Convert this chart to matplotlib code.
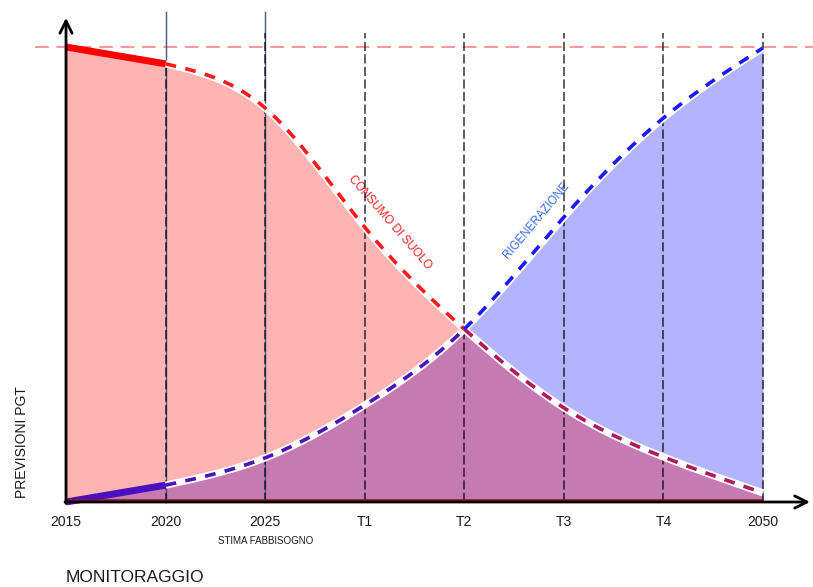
import numpy as np
import matplotlib
matplotlib.use("Agg")
import matplotlib.pyplot as plt

# ---------------- data ----------------
tick_labels = ["2015", "2020", "2025", "T1", "T2", "T3", "T4", "2050"]
tick_pos = [0, 1, 2, 3, 4, 5, 6, 7]
curve_x = [0, 1, 2, 3, 4, 5, 6, 7]
consumo = [100, 96.3, 86.6, 60.4, 38.0, 20.7, 9.9, 2.0]
rigenerazione = [0, 3.7, 9.7, 21.3, 38.0, 62.6, 84.4, 99.8]
monitor_end = 1      # solid (observed) part ends at 2020
cross_x = 4          # curves meet at T2
max_level = 100      # PGT forecast level

# ---------------- helpers ----------------
def natural_spline(x, y, xs):
    x = np.asarray(x, float); y = np.asarray(y, float)
    n = len(x); h = np.diff(x)
    A = np.zeros((n, n)); b = np.zeros(n)
    A[0, 0] = 1; A[-1, -1] = 1
    for i in range(1, n - 1):
        A[i, i - 1] = h[i - 1]; A[i, i] = 2 * (h[i - 1] + h[i]); A[i, i + 1] = h[i]
        b[i] = 3 * ((y[i + 1] - y[i]) / h[i] - (y[i] - y[i - 1]) / h[i - 1])
    c = np.linalg.solve(A, b)
    bb = (y[1:] - y[:-1]) / h - h * (2 * c[:-1] + c[1:]) / 3
    d = (c[1:] - c[:-1]) / (3 * h)
    idx = np.clip(np.searchsorted(x, xs) - 1, 0, n - 2)
    t = xs - x[idx]
    return y[idx] + bb[idx] * t + c[idx] * t**2 + d[idx] * t**3

def curve(xs, ys, grid):
    xs = np.asarray(xs, float); ys = np.asarray(ys, float)
    out = np.empty_like(grid)
    lin = grid <= monitor_end
    out[lin] = np.interp(grid[lin], xs[:2], ys[:2])
    sel = xs >= monitor_end
    out[~lin] = natural_spline(xs[sel], ys[sel], grid[~lin])
    return out

grid = np.linspace(0, 7, 1401)
red = curve(curve_x, consumo, grid)
blue = curve(curve_x, rigenerazione, grid)

# ---------------- figure ----------------
W, H = 813, 587
fig = plt.figure(figsize=(W / 100, H / 100), dpi=100)
ax = fig.add_axes([0, 0, 1, 1])
sx = 697 / 7.0     # px per x unit
sy = 455 / 100.0   # px per y unit
ax.set_xlim(-66 / sx, (W - 66) / sx)
ax.set_ylim(-85 / sy, (H - 85) / sy)
ax.axis("off")

pink = "#ffb3b3"; lblue = "#b3b3ff"; purple = "#c67ab2"
ax.fill_between(grid, blue, red, where=red >= blue, color=pink, lw=0, zorder=1)
ax.fill_between(grid, red, blue, where=blue >= red, color=lblue, lw=0, zorder=1)
ax.fill_between(grid, 0, np.minimum(red, blue), color=purple, lw=0, zorder=1)

# horizontal forecast level line
ax.plot([-31 / sx, (W - 66) / sx], [max_level, max_level], color="#ff7b7b", lw=1.1,
        dashes=(9, 5), zorder=2)

# vertical reference lines
for p in tick_pos[1:3]:
    ax.plot([p, p], [0, 107.7], color="#3c5a88", lw=1.0, zorder=3)
top_dash = 103.1
for p in tick_pos[1:]:
    top = np.interp(p, grid, red) if p == monitor_end else top_dash
    ax.plot([p, p], [0, top], color="black", lw=1.1, alpha=0.8,
            dashes=(6, 2.2), zorder=4)

# curves: white underlay and coloured dashes
seg1 = (grid >= monitor_end) & (grid <= cross_x)
seg2 = grid >= cross_x
for ys in (red, blue):
    ax.plot(grid[grid >= monitor_end], ys[grid >= monitor_end], color="white",
            lw=5.2, solid_capstyle="butt", zorder=5)
dash = (3.0, 2.6)
ax.plot(grid[seg1], red[seg1], color="#ff1a1a", lw=2.6, dashes=dash, zorder=6)
ax.plot(grid[seg2], red[seg2], color="#b0185a", lw=2.6, dashes=dash, zorder=6)
ax.plot(grid[seg1], blue[seg1], color="#4a14b8", lw=2.6, dashes=dash, zorder=6)
ax.plot(grid[seg2], blue[seg2], color="#1a1aff", lw=2.6, dashes=dash, zorder=6)

# monitored (solid) part 2015-2020
ax.plot(curve_x[:2], consumo[:2], color="#ff0000", lw=5, solid_capstyle="butt", zorder=7)
ax.plot(curve_x[:2], rigenerazione[:2], color="#4a0fc0", lw=5, solid_capstyle="butt", zorder=7)

# baseline border
ax.plot([0, 7], [0.4, 0.4], color="#8b1a1a", lw=1.2, zorder=7)

# axes arrows
arr = dict(arrowstyle="->", lw=2, color="black", mutation_scale=22, shrinkA=0, shrinkB=0)
ax.annotate("", xy=(0, 106.4), xytext=(0, -0.3), arrowprops=arr, zorder=8)
ax.annotate("", xy=(744 / sx, 0), xytext=(-0.01, 0), arrowprops=arr, zorder=8)

# text
font = "Liberation Sans"
for p, lab in zip(tick_pos, tick_labels):
    ax.text(p, -20 / sy, lab, ha="center", va="center", fontsize=10,
            family=font, color="#1a1a1a")
ax.text(2, -39 / sy, "STIMA FABBISOGNO", ha="center", va="center", fontsize=7,
        family=font, color="#1a1a1a")
ax.text(0, -76 / sy, "MONITORAGGIO", ha="left", va="center", fontsize=12.5,
        family=font, color="#1a1a1a")
ax.text(-44 / sx, 60 / sy, "PREVISIONI PGT", ha="center", va="center", rotation=90,
        fontsize=10, family=font, color="#1a1a1a")
ax.text((390 - 66) / sx, (502 - 222) / sy, "CONSUMO DI SUOLO", ha="center", va="center",
        rotation=-49, rotation_mode="anchor", fontsize=8.5, family=font, color="#ff2020")
ax.text((536 - 66) / sx, (502 - 220) / sy, "RIGENERAZIONE", ha="center", va="center",
        rotation=50, rotation_mode="anchor", fontsize=8.3, family=font, color="#3366ff")

fig.savefig("out.png", dpi=100)
